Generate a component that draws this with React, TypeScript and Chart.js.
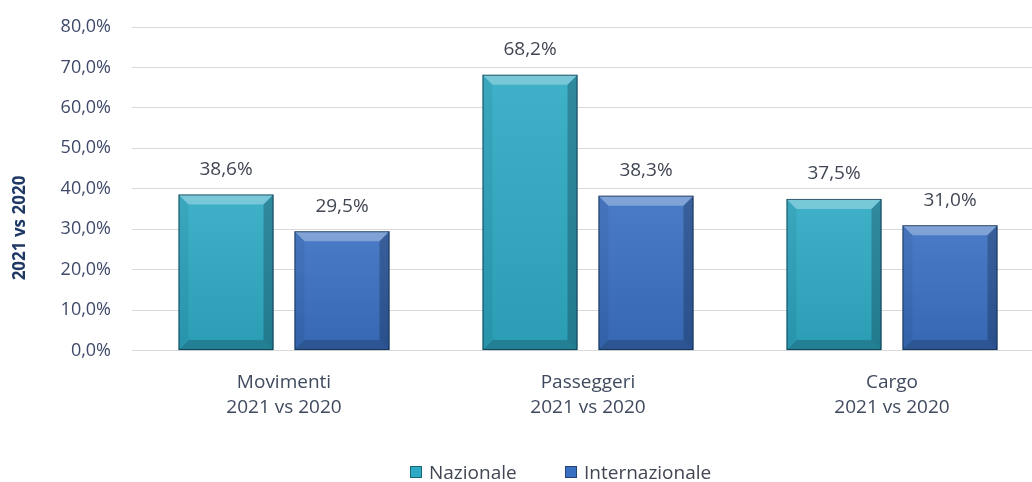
import React, { useEffect, useRef } from "react";
import { Chart, registerables } from "chart.js";

Chart.register(...registerables);

const categories = ["Movimenti", "Passeggeri", "Cargo"];
const periodLabel = "2021 vs 2020";
const nazionale = [38.6, 68.2, 37.5];
const internazionale = [29.5, 38.3, 31.0];
const seriesNames = ["Nazionale", "Internazionale"];
const yTicks = [0, 10, 20, 30, 40, 50, 60, 70, 80];
const yTitle = "2021 vs 2020";

const FONT = "'Open Sans', 'DejaVu Sans', sans-serif";
const colNaz = "#2eaac4";
const colInt = "#3a70c2";

const fmt = (v: number) => v.toFixed(1).replace(".", ",") + "%";

const bevelPlugin = {
  id: "bevel",
  afterDatasetsDraw(chart: any) {
    const ctx = chart.ctx;
    chart.data.datasets.forEach((ds: any, di: number) => {
      const meta = chart.getDatasetMeta(di);
      meta.data.forEach((el: any, i: number) => {
        const { x, y, base, width } = el.getProps(["x", "y", "base", "width"], true);
        const l = x - width / 2, r = x + width / 2, t = y, b = base;
        const bv = 10;
        ctx.save();
        const g = ctx.createLinearGradient(0, t, 0, b);
        g.addColorStop(0, "rgba(255,255,255,0.08)");
        g.addColorStop(1, "rgba(0,0,0,0.08)");
        ctx.fillStyle = g;
        ctx.fillRect(l, t, width, b - t);
        ctx.beginPath();
        ctx.moveTo(l, t); ctx.lineTo(r, t); ctx.lineTo(r - bv, t + bv); ctx.lineTo(l + bv, t + bv); ctx.closePath();
        ctx.fillStyle = "rgba(255,255,255,0.30)";
        ctx.fill();
        ctx.beginPath();
        ctx.moveTo(l, t); ctx.lineTo(l + bv, t + bv); ctx.lineTo(l + bv, b - bv); ctx.lineTo(l, b); ctx.closePath();
        ctx.fillStyle = "rgba(0,0,0,0.05)";
        ctx.fill();
        ctx.beginPath();
        ctx.moveTo(r, t); ctx.lineTo(r - bv, t + bv); ctx.lineTo(r - bv, b - bv); ctx.lineTo(r, b); ctx.closePath();
        ctx.fillStyle = "rgba(0,0,0,0.22)";
        ctx.fill();
        ctx.beginPath();
        ctx.moveTo(l, b); ctx.lineTo(l + bv, b - bv); ctx.lineTo(r - bv, b - bv); ctx.lineTo(r, b); ctx.closePath();
        ctx.fillStyle = "rgba(0,0,0,0.18)";
        ctx.fill();
        ctx.strokeStyle = "rgba(10,30,50,0.65)";
        ctx.lineWidth = 1;
        ctx.strokeRect(l + 0.5, t + 0.5, width - 1, b - t - 1);
        ctx.fillStyle = "#404653";
        ctx.font = `19px ${FONT}`;
        ctx.textAlign = "center";
        ctx.textBaseline = "middle";
        ctx.fillText(fmt(ds.data[i]), x, t - 25);
        ctx.restore();
      });
    });
  },
};

const yTitlePlugin = {
  id: "ytitle",
  afterDraw(chart: any) {
    const ctx = chart.ctx;
    ctx.save();
    ctx.translate(20, 228);
    ctx.rotate(-Math.PI / 2);
    ctx.font = `bold 17px ${FONT}`;
    ctx.fillStyle = "#1f3864";
    ctx.textAlign = "center";
    ctx.textBaseline = "middle";
    ctx.fillText(yTitle, 0, 0);
    ctx.restore();
  },
};

const CANVAS_W = 1044;

export default function App() {
  const ref = useRef<HTMLCanvasElement>(null);
  useEffect(() => {
    document.body.style.margin = "0";
    const chart = new Chart(ref.current!, {
      type: "bar",
      data: {
        labels: categories.map((c) => [c, periodLabel]),
        datasets: [
          { label: seriesNames[0], data: nazionale, backgroundColor: colNaz, categoryPercentage: 0.763, barPercentage: 0.819 },
          { label: seriesNames[1], data: internazionale, backgroundColor: colInt, categoryPercentage: 0.763, barPercentage: 0.819 },
        ],
      },
      options: {
        animation: false,
        responsive: false,
        layout: { padding: { top: 27, left: 0, right: 0, bottom: 50 } },
        plugins: { legend: { display: false }, tooltip: { enabled: false } },
        scales: {
          x: {
            grid: { display: false },
            border: { display: false },
            ticks: { color: "#3f4a5e", font: { family: FONT, size: 19, lineHeight: 1.3 }, padding: 12 },
          },
          y: {
            min: 0,
            max: 80,
            afterFit(scale: any) { scale.width = 132; scale.paddingTop = 0; scale.paddingBottom = 0; },
            afterBuildTicks(scale: any) { scale.ticks = yTicks.map((v) => ({ value: v })); },
            grid: { color: "#d9d9d9", drawTicks: false },
            border: { display: false },
            ticks: {
              color: "#3f4a6a",
              font: { family: FONT, size: 18 },
              padding: 21,
              callback: (v: any) => fmt(Number(v)),
            },
          },
        },
      },
      plugins: [bevelPlugin, yTitlePlugin],
    });
    return () => chart.destroy();
  }, []);

  const legendItem = (left: number, color: string, text: string) => (
    <div style={{ position: "absolute", left, top: 459, display: "flex", alignItems: "center", fontFamily: FONT, fontSize: 19, color: "#404653" }}>
      <span style={{ display: "inline-block", width: 10, height: 10, background: color, border: "1px solid rgba(0,0,0,0.4)", marginRight: 7 }} />
      <span>{text}</span>
    </div>
  );

  return (
    <div style={{ position: "relative", width: 1032, height: 482, background: "#fff", overflow: "hidden" }}>
      <canvas ref={ref} width={CANVAS_W} height={482} style={{ width: CANVAS_W, height: 482, display: "block" }} />
      {legendItem(410, colNaz, seriesNames[0])}
      {legendItem(565, colInt, seriesNames[1])}
    </div>
  );
}
